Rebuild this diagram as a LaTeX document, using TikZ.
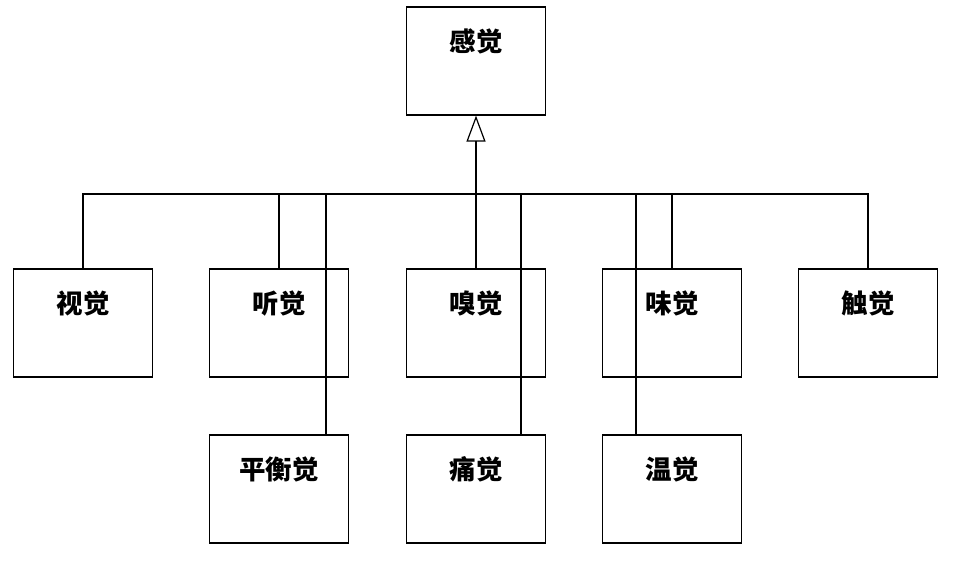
\documentclass[tikz,border=0pt]{standalone}
\usepackage{fontspec}
\newfontfamily\cjk{Noto Sans CJK SC}
\usetikzlibrary{arrows.meta}

\begin{document}
\begin{tikzpicture}[
  x=1pt, y=-1pt,
  line width=1.2pt,
  font=\cjk\bfseries\fontsize{26.5}{26.5}\selectfont,
  sense/.style={rectangle, draw=black, inner sep=0pt, minimum width=139pt,
                text height=44pt, text depth=64pt},
  gen/.style={-{Triangle[open, length=26pt, width=19pt]}}
]
\useasboundingbox (0,0) rectangle (976,565);

% top
\node[sense] (ganjue) at (476,61) {感觉};
% first row
\node[sense] (shijue)  at (83,323)  {视觉};
\node[sense] (tingjue) at (279,323) {听觉};
\node[sense] (xiujue)  at (476,323) {嗅觉};
\node[sense] (weijue)  at (672,323) {味觉};
\node[sense] (chujue)  at (868,323) {触觉};
% second row
\node[sense] (pingheng) at (279,489) {平衡觉};
\node[sense] (tongjue)  at (476,489) {痛觉};
\node[sense] (wenjue)   at (672,489) {温觉};

\coordinate (bus) at (476,194);

\draw[gen] (bus) -- (ganjue.south);
\draw (shijue.north) |- (bus) -| (chujue.north);
\draw (tingjue.north) -- (tingjue.north |- bus);
\draw (xiujue.north) -- (bus);
\draw (weijue.north) -- (weijue.north |- bus);

\draw ([xshift=47pt]pingheng.north) -- ([xshift=47pt]pingheng.north |- bus);
\draw ([xshift=45pt]tongjue.north) -- ([xshift=45pt]tongjue.north |- bus);
\draw ([xshift=-36pt]wenjue.north) -- ([xshift=-36pt]wenjue.north |- bus);
\end{tikzpicture}
\end{document}
